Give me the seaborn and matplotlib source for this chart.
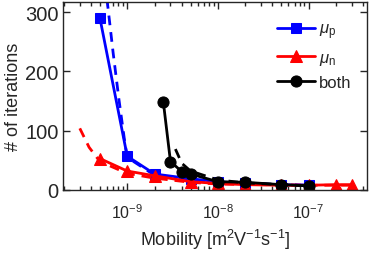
import numpy as np
import pandas as pd
import matplotlib
matplotlib.use("Agg")
import matplotlib.pyplot as plt
import seaborn as sns

# ---------------- data ----------------
mob_p = [5e-10, 1e-9, 2e-9, 5e-9, 1e-8, 2e-8, 5e-8, 1e-7]
iter_p = [290, 57, 27, 19, 14, 11, 9, 8]

mob_n = [5e-10, 1e-9, 2e-9, 5e-9, 1e-8, 2e-8, 5e-8, 1e-7, 2e-7, 3e-7]
iter_n = [53, 32, 24, 14, 11, 9, 8, 8, 9, 9]

mob_b = [2.5e-9, 3e-9, 4e-9, 5e-9, 1e-8, 2e-8, 5e-8, 1e-7]
iter_b = [149, 48, 31, 27, 14, 13, 9, 7]

# dashed guide curves
fit_p_x = [5.8e-10, 7e-10, 8.1e-10, 9.3e-10, 1e-9, 2e-9, 5e-9, 1e-8, 1e-7]
fit_p_y = [340, 231, 153, 86, 55, 25, 16, 12, 8]
fit_n_x = [3e-10, 3.8e-10, 5e-10, 1e-9, 2e-9, 5e-9, 1e-8, 1e-7, 3e-7]
fit_n_y = [104, 72, 48, 28, 20, 13, 10, 8, 8]
fit_b_x = [3.4e-9, 4e-9, 5e-9, 1e-8, 2e-8, 5e-8, 1e-7]
fit_b_y = [69, 45, 32, 17, 12, 9, 7]

labels = [r"$\mu_{\mathrm{p}}$", r"$\mu_{\mathrm{n}}$", "both"]

# ---------------- style ----------------
sns.set_style("ticks")
plt.rcParams["font.family"] = ["Liberation Sans", "DejaVu Sans"]
plt.rcParams["mathtext.fontset"] = "custom"
plt.rcParams["mathtext.rm"] = "Liberation Sans"
plt.rcParams["mathtext.it"] = "Liberation Sans:italic"
plt.rcParams["font.size"] = 13

fig = plt.figure(figsize=(3.74, 2.55), dpi=100)
ax = fig.add_axes([0.168, 0.251, 0.813, 0.737])

series = [
    (mob_p, iter_p, fit_p_x, fit_p_y, "#0000ff", "s", 7),
    (mob_n, iter_n, fit_n_x, fit_n_y, "#ff0000", "^", 8.5),
    (mob_b, iter_b, fit_b_x, fit_b_y, "#000000", "o", 8),
]

for (mx, my, fx, fy, col, mk, ms), lab in zip(series, labels):
    sns.lineplot(x=fx, y=fy, ax=ax, color=col, lw=2, linestyle=(0, (3.5, 2.5)),
                 sort=False, legend=False)
    sns.lineplot(x=mx, y=my, ax=ax, color=col, lw=2, marker=mk, markersize=ms,
                 markeredgecolor=col, sort=False, label=lab)

ax.set_xscale("log")
ax.set_xlim(1.95e-10, 4.4e-7)
ax.set_ylim(0, 317)
ax.set_yticks([0, 100, 200, 300])
ax.set_xticks([1e-9, 1e-8, 1e-7])

ax.tick_params(which="both", direction="in", top=True, right=True,
               colors="#262626", labelcolor="#262626")
ax.tick_params(which="major", length=5, width=1)
ax.tick_params(which="minor", length=3, width=1)
ax.tick_params(axis="y", labelsize=14.5, pad=3)
ax.tick_params(axis="x", labelsize=11.5, pad=9)
for s in ax.spines.values():
    s.set_color("#262626")
    s.set_linewidth(1)

ax.set_xlabel(r"Mobility [m$^2$V$^{-1}$s$^{-1}$]", labelpad=4, color="#262626",
              fontsize=13)
ax.set_ylabel("# of iterations", labelpad=2, color="#262626", fontsize=13)

ax.legend(loc="upper right", bbox_to_anchor=(1.0, 0.975), frameon=False,
          handlelength=2.3, handletextpad=0.25, labelspacing=0.5, fontsize=12,
          borderaxespad=0.5)

fig.savefig("out.png", dpi=100)
